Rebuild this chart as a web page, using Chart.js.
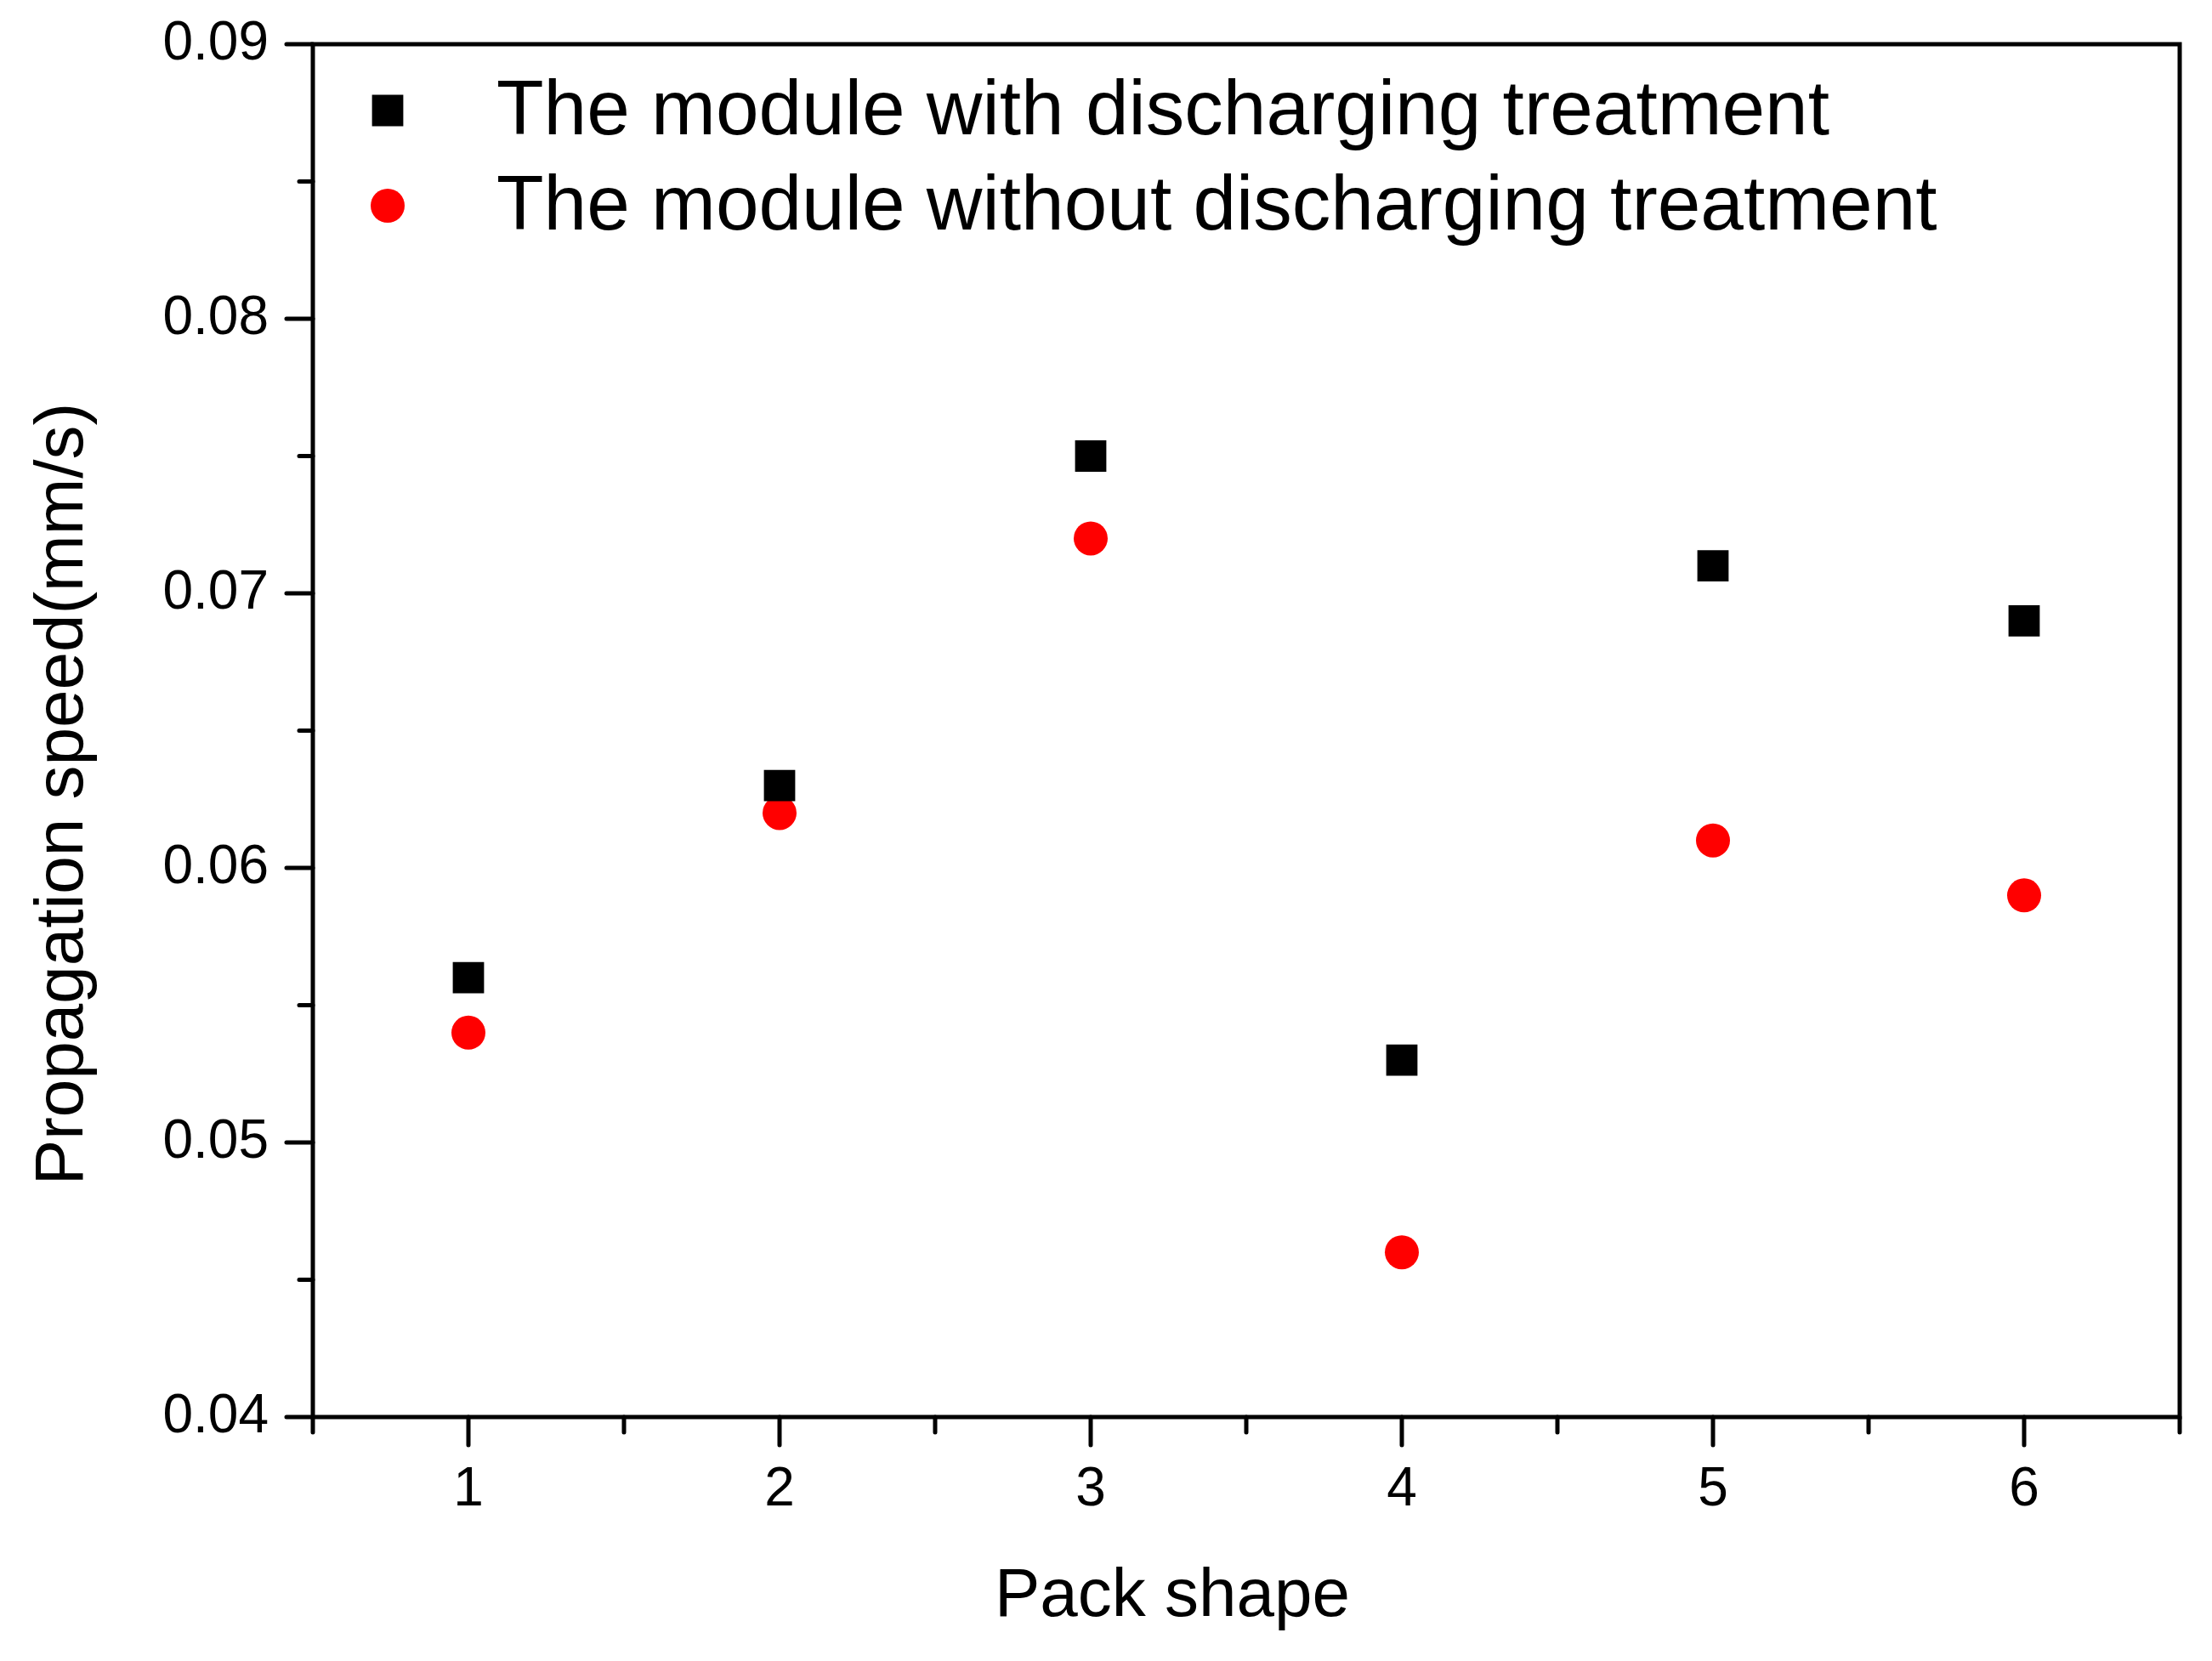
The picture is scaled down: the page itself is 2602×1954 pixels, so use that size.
<!DOCTYPE html>
<html>
<head>
<meta charset="utf-8">
<script src="https://cdn.jsdelivr.net/npm/chart.js@4.4.1/dist/chart.umd.min.js"></script>
<style>
  html, body { margin: 0; padding: 0; background: #fff; }
  #wrap { width: 2602px; height: 1954px; }
</style>
</head>
<body>
<div id="wrap"><canvas id="c" width="2602" height="1954"></canvas></div>
<script>
// Pack shape vs propagation speed, two treatment series

const packShapes = [1, 2, 3, 4, 5, 6];
const withDischarge = [0.056, 0.063, 0.075, 0.053, 0.071, 0.069];
const withoutDischarge = [0.054, 0.062, 0.072, 0.046, 0.061, 0.059];
const seriesLabels = ['The module with discharging treatment', 'The module without discharging treatment'];
const xTitle = 'Pack shape';
const yTitle = 'Propagation speed(mm/s)';

const xMajorTicks = [1, 2, 3, 4, 5, 6];
const xMinorTicks = [0.5, 1.5, 2.5, 3.5, 4.5, 5.5, 6.5];
const yMajorTicks = [0.04, 0.05, 0.06, 0.07, 0.08, 0.09];
const yMinorTicks = [0.045, 0.055, 0.065, 0.075, 0.085];

const FONT = "'Liberation Sans', Arial, sans-serif";

const toPoints = vals => packShapes.map((x, i) => ({ x, y: vals[i] }));

// frame, tick marks and axis titles
const framePlugin = {
  id: 'frame',
  afterDraw(chart) {
    const { ctx, chartArea: a, scales } = chart;
    ctx.save();
    ctx.strokeStyle = '#000';
    ctx.lineWidth = 5;
    ctx.lineCap = 'round';
    ctx.strokeRect(a.left, a.top, a.right - a.left, a.bottom - a.top);
    ctx.beginPath();
    yMajorTicks.forEach(v => { const y = scales.y.getPixelForValue(v); ctx.moveTo(a.left - 31, y); ctx.lineTo(a.left, y); });
    yMinorTicks.forEach(v => { const y = scales.y.getPixelForValue(v); ctx.moveTo(a.left - 16, y); ctx.lineTo(a.left, y); });
    xMajorTicks.forEach(v => { const x = scales.x.getPixelForValue(v); ctx.moveTo(x, a.bottom); ctx.lineTo(x, a.bottom + 33); });
    xMinorTicks.forEach(v => { const x = scales.x.getPixelForValue(v); ctx.moveTo(x, a.bottom); ctx.lineTo(x, a.bottom + 18); });
    ctx.stroke();

    // titles are a bit off-centre in the original, so place them by hand
    ctx.fillStyle = '#000';
    ctx.font = `80px ${FONT}`;
    ctx.textAlign = 'center';
    ctx.textBaseline = 'middle';
    ctx.fillText(xTitle, a.left + 1011, a.bottom + 212);
    ctx.translate(75, a.top + 882);
    ctx.rotate(-Math.PI / 2);
    ctx.fillText(yTitle, 0, 0);
    ctx.restore();
  }
};

// legend sitting inside the plot, top-left
const insideLegend = {
  id: 'insideLegend',
  afterDraw(chart) {
    const { ctx, chartArea: a } = chart;
    ctx.save();
    ctx.font = `91px ${FONT}`;
    ctx.textBaseline = 'middle';
    chart.data.datasets.forEach((ds, i) => {
      const cy = a.top + 78 + i * 112;
      const cx = a.left + 88;
      ctx.fillStyle = ds.backgroundColor;
      ctx.strokeStyle = ds.borderColor;
      Chart.helpers.drawPoint(ctx, { pointStyle: ds.pointStyle, radius: ds.pointRadius, borderWidth: 0 }, cx, cy);
      ctx.fillStyle = '#000';
      ctx.fillText(ds.label, a.left + 216, cy + 3);
    });
    ctx.restore();
  }
};

new Chart(document.getElementById('c'), {
  type: 'scatter',
  data: {
    datasets: [
      {
        label: seriesLabels[0],
        data: toPoints(withDischarge),
        pointStyle: 'rect',
        pointRadius: 26,
        pointHoverRadius: 26,
        backgroundColor: '#000',
        borderColor: '#000',
        borderWidth: 0,
      },
      {
        label: seriesLabels[1],
        data: toPoints(withoutDischarge),
        pointStyle: 'circle',
        pointRadius: 20,
        pointHoverRadius: 20,
        backgroundColor: '#ff0000',
        borderColor: '#ff0000',
        borderWidth: 0,
      },
    ],
  },
  options: {
    responsive: false,
    animation: false,
    events: [],
    layout: { autoPadding: false, padding: { left: 0, right: 38, top: 52, bottom: 0 } },
    plugins: { legend: { display: false }, tooltip: { enabled: false } },
    scales: {
      x: {
        type: 'linear',
        min: 0.5,
        max: 6.5,
        afterBuildTicks: s => { s.ticks = xMajorTicks.map(v => ({ value: v })); },
        afterFit: s => { s.height = 287; s.paddingLeft = 0; s.paddingRight = 0; },
        grid: { display: false, drawTicks: false },
        border: { display: false },
        ticks: { color: '#000', font: { family: FONT, size: 64 }, padding: 48 },
      },
      y: {
        min: 0.04,
        max: 0.09,
        afterBuildTicks: s => { s.ticks = yMajorTicks.map(v => ({ value: v })); },
        afterFit: s => { s.width = 368; s.paddingTop = 0; s.paddingBottom = 0; },
        grid: { display: false, drawTicks: false },
        border: { display: false },
        ticks: { color: '#000', font: { family: FONT, size: 64 }, padding: 52, callback: v => v.toFixed(2) },
      },
    },
  },
  plugins: [framePlugin, insideLegend],
});
</script>
</body>
</html>
